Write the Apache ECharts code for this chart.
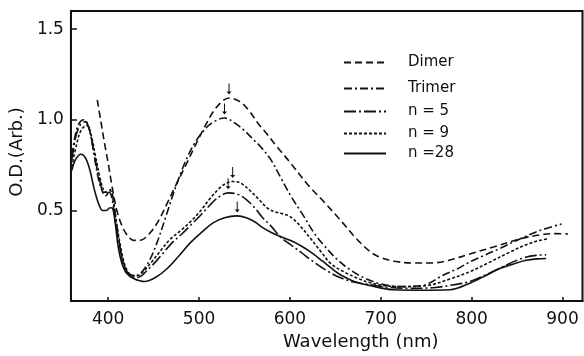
<!DOCTYPE html>
<html>
<head>
<meta charset="utf-8">
<script src="https://cdn.jsdelivr.net/npm/echarts@6/dist/echarts.min.js"></script>
<style>
  html, body { margin: 0; padding: 0; background: #fff; }
  #chart { width: 584px; height: 356px; }
</style>
</head>
<body>
<div id="chart"></div>
<script>
// Absorption spectra (O.D., arbitrary units) vs wavelength (nm)
const xTicks = [400, 500, 600, 700, 800, 900];
const yTicks = [0.5, 1.0, 1.5];

const dimerNm = [388, 392, 396, 400, 404, 409, 414, 420, 428, 435, 445, 455, 465, 475, 485, 495, 505, 515, 525, 533, 545, 555, 565, 575, 586, 601, 620, 637, 655, 674, 689, 700, 715, 735, 755, 775, 798, 825, 853, 875, 890, 906];
const dimerOd = [1.11, 0.99, 0.87, 0.76, 0.64, 0.51, 0.43, 0.37, 0.335, 0.335, 0.37, 0.44, 0.54, 0.645, 0.745, 0.85, 0.95, 1.04, 1.10, 1.12, 1.10, 1.05, 0.98, 0.92, 0.85, 0.76, 0.64, 0.55, 0.45, 0.34, 0.27, 0.24, 0.22, 0.21, 0.21, 0.225, 0.26, 0.30, 0.343, 0.365, 0.372, 0.37];

const trimerNm = [360, 364, 368, 373, 378, 382, 386, 390, 395, 398, 402, 405, 408, 412, 416, 421, 428, 435, 445, 455, 465, 475, 485, 495, 505, 515, 528, 540, 550, 560, 568, 579, 590, 601, 615, 626, 637, 652, 667, 685, 700, 720, 745, 769, 785, 798, 815, 831, 853, 875, 899];
const trimerOd = [0.80, 0.92, 0.98, 1.0, 0.97, 0.88, 0.76, 0.66, 0.60, 0.60, 0.615, 0.58, 0.47, 0.33, 0.22, 0.16, 0.14, 0.15, 0.22, 0.34, 0.49, 0.64, 0.77, 0.87, 0.94, 0.985, 1.01, 0.98, 0.94, 0.89, 0.85, 0.78, 0.68, 0.58, 0.47, 0.38, 0.31, 0.23, 0.17, 0.12, 0.095, 0.08, 0.085, 0.144, 0.18, 0.216, 0.255, 0.29, 0.343, 0.389, 0.425];

const n5Nm = [360, 364, 369, 375, 380, 385, 390, 394, 397, 401, 404, 408, 413, 418, 424, 432, 445, 458, 470, 481, 491, 502, 512, 522, 532, 542, 552, 562, 570, 579, 590, 601, 612, 625, 640, 655, 670, 689, 710, 735, 760, 780, 798, 820, 842, 860, 872, 882];
const n5Od = [0.78, 0.90, 0.97, 0.99, 0.93, 0.80, 0.68, 0.60, 0.58, 0.60, 0.57, 0.44, 0.29, 0.19, 0.14, 0.13, 0.18, 0.25, 0.32, 0.37, 0.42, 0.475, 0.53, 0.575, 0.597, 0.59, 0.56, 0.51, 0.46, 0.415, 0.352, 0.31, 0.27, 0.22, 0.17, 0.13, 0.105, 0.09, 0.075, 0.07, 0.075, 0.09, 0.108, 0.155, 0.208, 0.243, 0.253, 0.255];

const n9Nm = [360, 365, 370, 376, 381, 386, 391, 395, 398, 402, 405, 409, 414, 419, 425, 432, 440, 448, 458, 468, 480, 491, 502, 512, 522, 530, 537, 546, 556, 566, 576, 585, 593, 602, 612, 622, 633, 645, 660, 675, 689, 705, 725, 750, 775, 798, 820, 842, 862, 875, 884];
const n9Od = [0.74, 0.86, 0.94, 0.97, 0.92, 0.80, 0.68, 0.61, 0.60, 0.61, 0.57, 0.44, 0.29, 0.19, 0.145, 0.14, 0.17, 0.217, 0.28, 0.34, 0.39, 0.44, 0.50, 0.565, 0.62, 0.65, 0.66, 0.65, 0.61, 0.56, 0.51, 0.49, 0.48, 0.46, 0.41, 0.35, 0.28, 0.207, 0.16, 0.125, 0.10, 0.085, 0.08, 0.085, 0.12, 0.162, 0.215, 0.27, 0.315, 0.335, 0.343];

const n28Nm = [360, 364, 370, 375, 380, 385, 390, 394, 398, 402, 405, 408, 411, 415, 420, 428, 440, 452, 465, 478, 491, 503, 515, 528, 542, 552, 562, 570, 579, 590, 601, 612, 623, 636, 646, 656, 670, 689, 714, 745, 776, 798, 815, 831, 846, 860, 872, 882];
const n28Od = [0.72, 0.78, 0.81, 0.79, 0.72, 0.61, 0.53, 0.50, 0.50, 0.515, 0.51, 0.42, 0.30, 0.21, 0.155, 0.125, 0.108, 0.13, 0.18, 0.25, 0.325, 0.38, 0.43, 0.46, 0.47, 0.46, 0.435, 0.405, 0.38, 0.355, 0.334, 0.305, 0.27, 0.22, 0.18, 0.144, 0.11, 0.085, 0.0625, 0.06, 0.0625, 0.099, 0.14, 0.18, 0.205, 0.225, 0.233, 0.235];

// Band maxima marked with small arrows
const peakNm = { 'Dimer': 533, 'Trimer': 528, 'n = 5': 532, 'n = 9': 537, 'n =28': 542 };
const peakOd = { 'Dimer': 1.12, 'Trimer': 1.01, 'n = 5': 0.597, 'n = 9': 0.66, 'n =28': 0.47 };

const seriesNames = ['Dimer', 'Trimer', 'n = 5', 'n = 9', 'n =28'];
const seriesNm = [dimerNm, trimerNm, n5Nm, n9Nm, n28Nm];
const seriesOd = [dimerOd, trimerOd, n5Od, n9Od, n28Od];
const dashes = [[7, 4], [8, 3, 2, 3], [12, 3, 2, 3], [3, 2], 'solid'];
const legendTops = [55, 81, 104, 126, 146];

const ink = '#111';
const fontFamily = 'DejaVu Sans';
const arrowPath = 'path://M2,0 L3,0 L3,8 L5,8 L2.5,11 L0,8 L2,8 Z';

const chart = echarts.init(document.getElementById('chart'), null, { renderer: 'canvas' });

const series = seriesNames.map((name, i) => ({
  name: name,
  type: 'line',
  data: seriesNm[i].map((x, j) => [x, seriesOd[i][j]]),
  smooth: 0.35,
  symbol: 'none',
  lineStyle: { color: ink, width: 1.6, type: dashes[i] },
  itemStyle: { color: ink },
  emphasis: { disabled: true },
  markPoint: {
    symbol: arrowPath,
    symbolSize: [5, 11],
    symbolOffset: [0, -9],
    itemStyle: { color: ink },
    label: { show: false },
    data: [{ coord: [peakNm[name], peakOd[name]] }]
  }
}));

const legends = seriesNames.map((name, i) => ({
  data: [name],
  left: 343,
  top: legendTops[i],
  padding: 0,
  itemWidth: 42,
  itemHeight: 14,
  itemStyle: { opacity: 0 },
  textStyle: { color: ink, fontFamily: fontFamily, fontSize: 15, lineHeight: 14, padding: [0, 0, 0, 17] },
  selectedMode: false
}));

chart.setOption({
  animation: false,
  backgroundColor: '#fff',
  legend: legends,
  grid: {
    left: 69, right: 1.5, top: 11, bottom: 49.5,
    show: true, borderColor: ink, borderWidth: 2
  },
  xAxis: {
    type: 'value',
    min: 359, max: 922,
    name: 'Wavelength (nm)',
    nameLocation: 'middle',
    nameGap: 23,
    nameTextStyle: { color: ink, fontFamily: fontFamily, fontSize: 18, padding: [0, 0, 0, 68] },
    axisLine: { lineStyle: { color: ink, width: 2 } },
    axisTick: { inside: true, length: 4, customValues: xTicks, lineStyle: { color: ink, width: 1.5 } },
    axisLabel: { customValues: xTicks, margin: 10, color: ink, fontFamily: fontFamily, fontSize: 17 },
    splitLine: { show: false }
  },
  yAxis: {
    type: 'value',
    min: 0, max: 1.6,
    name: 'O.D.(Arb.)',
    nameLocation: 'middle',
    nameGap: 42,
    nameRotate: 90,
    nameTextStyle: { color: ink, fontFamily: fontFamily, fontSize: 18, padding: [0, 0, 0, 8] },
    axisLine: { lineStyle: { color: ink, width: 2 } },
    axisTick: { inside: true, length: 6, customValues: yTicks, lineStyle: { color: ink, width: 1.5 } },
    axisLabel: { customValues: yTicks, margin: 7, color: ink, fontFamily: fontFamily, fontSize: 17,
                 formatter: v => v.toFixed(1) },
    splitLine: { show: false }
  },
  series: series
});
</script>
</body>
</html>
